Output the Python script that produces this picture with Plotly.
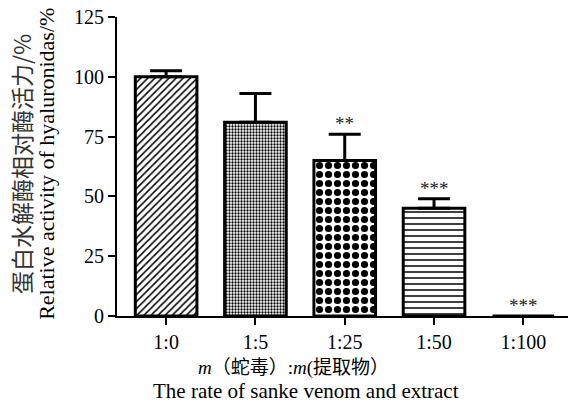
import plotly.graph_objects as go

# Snake venom : extract mass ratio and relative hyaluronidase activity
ratios = ["1:0", "1:5", "1:25", "1:50", "1:100"]
activity = [100, 81, 65, 45, 0]
sem = [2.5, 12, 11, 4, 0]
significance = ["", "", "**", "***", "***"]

patterns = ["/", ".", ".", "-", ""]
pattern_sizes = [5, 3, 9, 6, 5]
pattern_solidity = [0.3, 0.45, 0.5, 0.25, 0.3]

serif = "Liberation Serif, Times New Roman, serif"

fig = go.Figure()
for i, r in enumerate(ratios):
    fig.add_trace(go.Bar(
        x=[r], y=[activity[i]],
        width=0.69,
        marker=dict(
            color="white",
            line=dict(color="black", width=3),
            pattern=dict(shape=patterns[i], fgcolor="black", bgcolor="white",
                         fgopacity=1, size=pattern_sizes[i],
                         solidity=pattern_solidity[i], fillmode="overlay"),
        ),
        error_y=dict(type="data", symmetric=False, array=[sem[i]], arrayminus=[0],
                     color="black", thickness=3, width=16, visible=sem[i] > 0),
        showlegend=False,
    ))

for i, r in enumerate(ratios):
    if significance[i]:
        fig.add_annotation(x=r, y=activity[i] + sem[i], text=significance[i],
                           showarrow=False, yanchor="bottom", yshift=-2,
                           font=dict(family=serif, size=19, color="#222"))

# Axis titles (bilingual)
fig.add_annotation(xref="paper", yref="paper", x=-0.158, y=0.508, xanchor="center",
                   yanchor="middle",
                   text="Relative activity of hyaluronidas/%", textangle=-90,
                   showarrow=False, font=dict(family=serif, size=22, color="black"))
fig.add_annotation(xref="paper", yref="paper", x=-0.214, y=0.51, xanchor="center",
                   yanchor="middle", borderpad=0,
                   text="蛋白水解酶相对酶活力/%", textangle=-90,
                   showarrow=False, font=dict(family="Noto Sans CJK SC", size=23, color="#333"))
fig.add_annotation(xref="paper", yref="paper", x=0.392, y=-0.174, xanchor="center",
                   yanchor="middle",
                   text="<i>m</i>（蛇毒）:<i>m</i>(提取物）",
                   showarrow=False, font=dict(family="Liberation Serif, Noto Sans CJK SC", size=19, color="black"))
fig.add_annotation(xref="paper", yref="paper", x=0.419, y=-0.251, xanchor="center",
                   yanchor="middle",
                   text="The rate of sanke venom and extract",
                   showarrow=False, font=dict(family=serif, size=21, color="black"))

fig.update_layout(
    width=568, height=407,
    margin=dict(l=117, r=0, t=17, b=91),
    plot_bgcolor="white", paper_bgcolor="white",
    xaxis=dict(
        range=[-0.55, 4.5], showline=True, linecolor="black", linewidth=2,
        ticks="outside", ticklen=7, tickwidth=2, tickcolor="black",
        tickfont=dict(family=serif, size=20, color="black"),
        showgrid=False, zeroline=False,
    ),
    yaxis=dict(
        range=[0, 125], tickvals=[0, 25, 50, 75, 100, 125],
        showline=True, linecolor="black", linewidth=2,
        ticks="outside", ticklen=7, tickwidth=2, tickcolor="black",
        tickfont=dict(family=serif, size=20, color="black"),
        showgrid=False, zeroline=False,
    ),
)

fig.write_html("out.html")
